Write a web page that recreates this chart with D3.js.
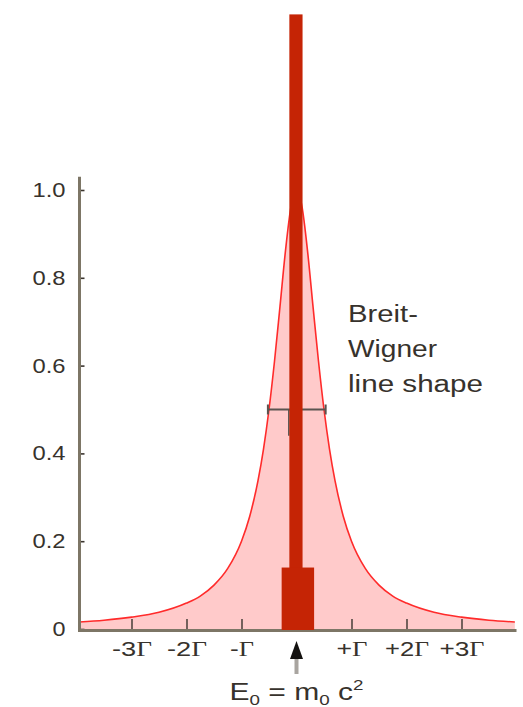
<!DOCTYPE html>
<html>
<head>
<meta charset="utf-8">
<script src="https://cdn.jsdelivr.net/npm/d3@7"></script>
<style>
  html, body { margin: 0; padding: 0; background: #fff; }
  svg { display: block; }
  text { font-family: "Liberation Sans", Arial, sans-serif; fill: #37322c; }
</style>
</head>
<body>
<svg id="chart" width="523" height="707"></svg>
<script>
// Breit-Wigner line shape, energy in units of the width Γ around E0
const shapeE = [-3.95, -3.5, -3, -2.5, -2, -1.75, -1.5, -1.25, -1, -0.85, -0.7, -0.6, -0.5, -0.4, -0.3, -0.2, -0.1, 0,
                0.1, 0.2, 0.3, 0.4, 0.5, 0.6, 0.7, 0.85, 1, 1.25, 1.5, 1.75, 2, 2.5, 3, 3.5, 3.97];
const shapeP = [0.016, 0.020, 0.027, 0.038, 0.059, 0.075, 0.100, 0.138, 0.200, 0.257, 0.338, 0.410, 0.500, 0.610, 0.735, 0.862, 0.962, 1.000,
                0.962, 0.862, 0.735, 0.610, 0.500, 0.410, 0.338, 0.257, 0.200, 0.138, 0.100, 0.075, 0.059, 0.038, 0.027, 0.020, 0.016];

// Sharp line at E0 and its base block: [left, right] in Γ, height on the probability axis
const lineSpan = [-0.13, 0.11];
const lineHeight = 1.40;
const baseSpan = [-0.27, 0.32];
const baseHeight = 0.14;

// Full width at half maximum marker
const fwhmSpan = [-0.52, 0.53];
const fwhmLevel = 0.5;

// Axis ticks
const yTicks = [0, 0.2, 0.4, 0.6, 0.8, 1.0];
const yTickLabels = ["0", "0.2", "0.4", "0.6", "0.8", "1.0"];
const xTicks = [-3, -2, -1, 0, 1, 2, 3];
const xTickLabels = ["-3", "-2", "-", "", "+", "+2", "+3"];
const xLabelWidths = [40, 40, 24, 0, 31, 44, 45];

const annotationLines = ["Breit-", "Wigner", "line shape"];
const annotationWidths = [70, 89, 135];

const svg = d3.select("#chart");

const x = d3.scaleLinear().domain([-4, 4]).range([76.5, 516.5]);
const y = d3.scaleLinear().domain([0, 1]).range([629, 190]);

const pts = shapeE.map((e, i) => ({ e, p: shapeP[i] }));

// filled resonance shape
svg.append("path")
  .datum(pts)
  .attr("fill", "#ffcaca")
  .attr("d", d3.area().x(d => x(d.e)).y0(y(0)).y1(d => y(d.p)).curve(d3.curveMonotoneX));

svg.append("path")
  .datum(pts)
  .attr("fill", "none")
  .attr("stroke", "#ff2b2b")
  .attr("stroke-width", 1.6)
  .attr("d", d3.line().x(d => x(d.e)).y(d => y(d.p)).curve(d3.curveMonotoneX));

// x axis with upward ticks
const xAxis = d3.axisBottom(x)
  .tickValues(xTicks)
  .tickSize(-10)
  .tickPadding(13)
  .tickFormat((d, i) => xTickLabels[i]);

const gx = svg.append("g").attr("transform", `translate(0,${y(0)})`).call(xAxis);
gx.select(".domain").remove();
gx.selectAll(".tick line").attr("stroke", "#3a342e").attr("stroke-width", 1.4);
gx.selectAll(".tick text")
  .attr("font-size", 20)
  .each(function (d, i) {
    const t = d3.select(this);
    const prefix = xTickLabels[i];
    t.text(null);
    if (d === 0) return;
    t.append("tspan").text(prefix);
    t.append("tspan").attr("font-family", "'Liberation Serif', serif").text("\u0393");
    t.attr("textLength", xLabelWidths[i]).attr("lengthAdjust", "spacingAndGlyphs");
  });

// y axis with inward ticks
const yAxis = d3.axisLeft(y)
  .tickValues(yTicks)
  .tickSize(-5)
  .tickPadding(14)
  .tickFormat((d, i) => yTickLabels[i]);

const gy = svg.append("g").attr("transform", "translate(79.5,0)").call(yAxis);
gy.select(".domain").remove();
gy.selectAll(".tick line").attr("stroke", "#3a342e").attr("stroke-width", 1.6);
gy.selectAll(".tick text")
  .attr("font-size", 20)
  .attr("textLength", (d, i) => yTickLabels[i].length > 1 ? 33 : 13)
  .attr("lengthAdjust", "spacingAndGlyphs");

// axis lines
svg.append("line")
  .attr("x1", 79.5).attr("x2", 79.5)
  .attr("y1", y(1.03)).attr("y2", y(0) + 3)
  .attr("stroke", "#7d7666").attr("stroke-width", 3);
svg.append("line")
  .attr("x1", 78).attr("x2", x.range()[1])
  .attr("y1", y(0) + 1.5).attr("y2", y(0) + 1.5)
  .attr("stroke", "#7d7666").attr("stroke-width", 3);

// FWHM marker
const fwhm = svg.append("g").attr("stroke", "#5a5450").attr("stroke-width", 2);
fwhm.append("line")
  .attr("x1", x(fwhmSpan[0])).attr("x2", x(fwhmSpan[1]))
  .attr("y1", y(fwhmLevel)).attr("y2", y(fwhmLevel));
fwhmSpan.forEach(e => {
  fwhm.append("line")
    .attr("x1", x(e)).attr("x2", x(e))
    .attr("y1", y(fwhmLevel) - 5).attr("y2", y(fwhmLevel) + 5);
});
fwhm.append("line")
  .attr("x1", x(-0.14)).attr("x2", x(-0.14))
  .attr("y1", y(fwhmLevel)).attr("y2", y(0.44))
  .attr("stroke-width", 1.5);

// sharp line at E0
const red = "#c52405";
svg.append("rect")
  .attr("x", x(lineSpan[0]))
  .attr("width", x(lineSpan[1]) - x(lineSpan[0]))
  .attr("y", y(lineHeight))
  .attr("height", y(0) - y(lineHeight))
  .attr("fill", red);
svg.append("rect")
  .attr("x", x(baseSpan[0]))
  .attr("width", x(baseSpan[1]) - x(baseSpan[0]))
  .attr("y", y(baseHeight))
  .attr("height", y(0) - y(baseHeight) + 1)
  .attr("fill", red);

// arrow marking E0
const ax = x(0);
svg.append("rect")
  .attr("x", ax - 2).attr("width", 4)
  .attr("y", 656).attr("height", 18)
  .attr("fill", "#a9a5a0");
svg.append("path")
  .attr("d", `M${ax},641 L${ax + 6.5},659 L${ax - 6.5},659 Z`)
  .attr("fill", "#141210");

// E0 = m0 c^2
const eq = svg.append("text")
  .attr("x", ax).attr("y", 700)
  .attr("text-anchor", "middle")
  .attr("font-size", 24)
  .attr("textLength", 134)
  .attr("lengthAdjust", "spacingAndGlyphs");
eq.append("tspan").text("E");
eq.append("tspan").attr("font-size", 15).attr("dy", 5).text("0");
eq.append("tspan").attr("dy", -5).text(" = m");
eq.append("tspan").attr("font-size", 15).attr("dy", 5).text("0");
eq.append("tspan").attr("dy", -5).text(" c");
eq.append("tspan").attr("font-size", 15).attr("dy", -10).text("2");

// annotation
annotationLines.forEach((s, i) => {
  svg.append("text")
    .attr("x", 348).attr("y", 322 + i * 35)
    .attr("font-size", 23)
    .attr("textLength", annotationWidths[i])
    .attr("lengthAdjust", "spacingAndGlyphs")
    .text(s);
});
</script>
</body>
</html>
